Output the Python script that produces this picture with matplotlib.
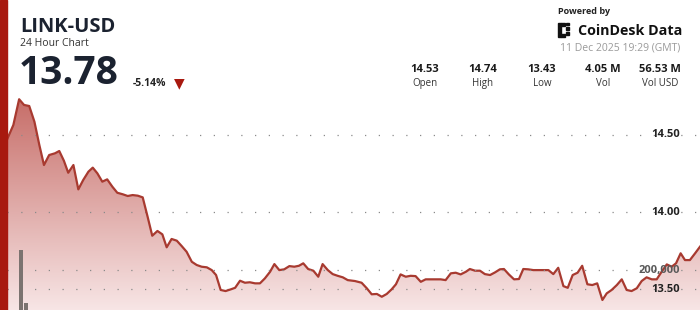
import matplotlib.pyplot as plt
import matplotlib.patches as mpatches
import numpy as np

plt.rcParams['font.family'] = ['Open Sans', 'DejaVu Sans']

# time of day in hours (0-24) and LINK-USD price
hours = [0.0, 0.22, 0.42, 0.59, 0.77, 0.95, 1.12, 1.28, 1.46, 1.66, 1.81, 1.97, 2.12, 2.30, 2.47,
         2.64, 2.82, 2.97, 3.13, 3.30, 3.47, 3.65, 3.82, 4.01, 4.18, 4.35, 4.53, 4.70, 4.87, 5.03,
         5.21, 5.38, 5.53, 5.70, 5.88, 6.05, 6.22, 6.40, 6.57, 6.74, 6.92, 7.09, 7.24, 7.40, 7.57,
         7.75, 7.90, 8.07, 8.24, 8.41, 8.59, 8.76, 8.93, 9.11, 9.26, 9.43, 9.60, 9.78, 9.95, 10.11,
         10.26, 10.43, 10.61, 10.78, 10.93, 11.11, 11.28, 11.45, 11.63, 11.80, 12.05, 12.28, 12.46,
         12.63, 12.81, 12.98, 13.15, 13.32, 13.47, 13.63, 13.81, 13.98, 14.15, 14.33, 14.50, 14.67,
         14.85, 15.02, 15.19, 15.37, 15.54, 15.71, 15.89, 16.03, 16.21, 16.38, 16.55, 16.73, 16.90,
         17.07, 17.21, 17.38, 17.56, 17.73, 17.88, 18.05, 18.23, 18.40, 18.57, 18.75, 18.92, 19.09,
         19.27, 19.42, 19.59, 19.76, 19.92, 20.10, 20.27, 20.44, 20.62, 20.77, 20.94, 21.12, 21.29,
         21.46, 21.63, 21.81, 21.98, 22.15, 22.33, 22.50, 22.67, 22.85, 23.02, 23.17, 23.33, 23.48,
         23.65, 23.83, 24.0]
price = [14.47, 14.565, 14.732, 14.695, 14.688, 14.586, 14.435, 14.305, 14.370, 14.381, 14.396,
         14.333, 14.255, 14.305, 14.147, 14.208, 14.262, 14.288, 14.251, 14.197, 14.212, 14.164,
         14.125, 14.115, 14.104, 14.110, 14.106, 14.095, 13.969, 13.846, 13.877, 13.855, 13.771,
         13.825, 13.814, 13.779, 13.742, 13.677, 13.656, 13.645, 13.641, 13.623, 13.591, 13.494,
         13.487, 13.498, 13.508, 13.554, 13.541, 13.544, 13.537, 13.537, 13.569, 13.612, 13.662,
         13.623, 13.628, 13.649, 13.645, 13.651, 13.667, 13.630, 13.619, 13.580, 13.662, 13.623,
         13.597, 13.586, 13.576, 13.558, 13.552, 13.541, 13.505, 13.466, 13.468, 13.450, 13.468,
         13.498, 13.531, 13.595, 13.580, 13.586, 13.584, 13.547, 13.563, 13.563, 13.563, 13.563,
         13.558, 13.602, 13.606, 13.595, 13.612, 13.630, 13.619, 13.619, 13.597, 13.591, 13.608,
         13.628, 13.630, 13.595, 13.563, 13.565, 13.630, 13.628, 13.623, 13.623, 13.623, 13.623,
         13.597, 13.638, 13.519, 13.508, 13.591, 13.606, 13.651, 13.531, 13.526, 13.537, 13.429,
         13.472, 13.494, 13.526, 13.563, 13.494, 13.487, 13.505, 13.552, 13.576, 13.563, 13.563,
         13.612, 13.660, 13.645, 13.667, 13.732, 13.688, 13.688, 13.732, 13.775]

vol_hours = [0.48, 0.66]
volume = [300000, 36000]

price_ticks = [13.5, 14.0, 14.5]
vol_ticks = [200000]

stat_values = ['14.53', '14.74', '13.43', '4.05 M', '56.53 M']
stat_names = ['Open', 'High', 'Low', 'Vol', 'Vol USD']

W, H = 700, 310
fig = plt.figure(figsize=(W / 100, H / 100), dpi=100)


def fx(px):
    return px / W


def fy(py):
    return 1 - py / H


red = '#a8190f'
dark = '#1b2230'

# left red strip
fig.patches.append(mpatches.Rectangle((0, 0), fx(7), 1, transform=fig.transFigure,
                                      color=red, zorder=5))

# price chart
ax = fig.add_axes([fx(7), 0, fx(693), fy(90)])
ymin, ymax = 13.364, 14.792
ax.set_xlim(0, 24)
ax.set_ylim(ymin, ymax)

# gradient fill under the line
poly = ax.fill_between(hours, price, ymin, color='none', lw=0)
grad = np.linspace(0, 1, 256).reshape(-1, 1)
top = np.array([0.78, 0.43, 0.41])
bot = np.array([0.97, 0.90, 0.90])
img = top + (bot - top) * grad
im = ax.imshow(img.reshape(256, 1, 3), extent=[0, 24, ymin, 14.74], aspect='auto',
               origin='upper', zorder=1)
path = poly.get_paths()[0]
im.set_clip_path(path, transform=ax.transData)

ax.plot(hours, price, color='#a83a30', lw=1.6, zorder=4)

lab_x = fx(680 - 7) / fx(693)
for t in price_ticks:
    ax.axhline(t, color='#8a8a8a', lw=0.9, ls=(0, (1, 10)), zorder=2)
    ax.text(lab_x, t, f'{t:.2f}', transform=ax.get_yaxis_transform(),
            ha='right', va='center', fontsize=8, fontweight='bold', color='#222222', zorder=6)

ax.axis('off')

# volume on its own scale
ax2 = ax.twinx()
ax2.set_ylim(0, 1100000)
ax2.bar(vol_hours, volume, width=0.13, color='#7b7370', zorder=3)
for v in vol_ticks:
    ax2.axhline(v, color='#8a8a8a', lw=0.9, ls=(0, (1, 10)), zorder=2)
    ax2.text(lab_x, v, f'{v:,}', transform=ax2.get_yaxis_transform(),
             ha='right', va='center', fontsize=8, fontweight='bold', color='#5a5a5a', zorder=6)
ax2.axis('off')

# header
fig.text(fx(20), fy(27), 'LINK-USD', fontsize=14.5, fontweight='bold', color=dark, va='center')
fig.text(fx(20), fy(44), '24 Hour Chart', fontsize=7.5, color='#333333', va='center')
fig.text(fx(19), fy(73), '13.78', fontsize=28, fontweight='bold', color=dark, va='center')
fig.text(fx(133), fy(84), '-5.14%', fontsize=7.5, fontweight='bold', color='#222222', va='center')
fig.text(fx(179), fy(83), '▼', fontsize=10, color=red, va='center', ha='center',
         family=['DejaVu Sans'])

fig.text(fx(558), fy(11), 'Powered by', fontsize=6.5, fontweight='bold', color='#222222',
         va='center')
# CoinDesk icon: small block grid
for (bx, by, bw, bh) in [(558, 23, 3, 14), (561, 23, 4, 3), (561, 34, 4, 3), (566, 27, 3, 3),
                         (566, 32, 3, 3), (566, 23, 3, 2)]:
    fig.patches.append(mpatches.Rectangle((fx(bx), fy(by + bh)), fx(bw), bh / H,
                                          transform=fig.transFigure, color='#111111'))
fig.text(fx(578), fy(31), 'CoinDesk Data', fontsize=10.3, fontweight='bold', color='#111111',
         va='center')
fig.text(fx(680), fy(48), '11 Dec 2025 19:29 (GMT)', fontsize=7.5, color='#9a9a9a',
         va='center', ha='right')

stat_x = [425, 483, 542, 603, 660]
for sx, val, name in zip(stat_x, stat_values, stat_names):
    fig.text(fx(sx), fy(69), val, fontsize=8, fontweight='bold', color='#1a1a1a',
             ha='center', va='center')
    fig.text(fx(sx), fy(83), name, fontsize=7, color='#333333', ha='center', va='center')

fig.savefig('out.png', dpi=100, facecolor='white')
